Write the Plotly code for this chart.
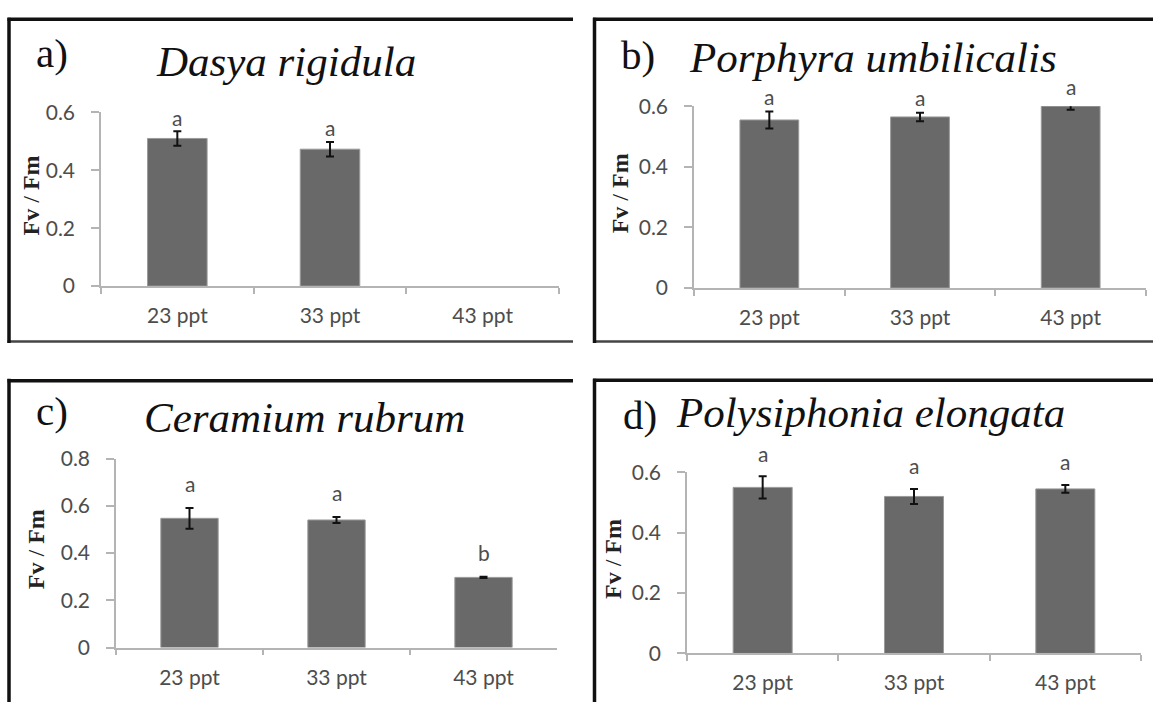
import plotly.graph_objects as go

W, H = 1153, 711

# ---------------- data ----------------
categories = ["23 ppt", "33 ppt", "43 ppt"]

dasya_mean = [0.510, 0.473, None]
dasya_err = [0.025, 0.025, None]
dasya_sig = ["a", "a", ""]

porphyra_mean = [0.555, 0.565, 0.602]
porphyra_err = [0.028, 0.014, 0.013]
porphyra_sig = ["a", "a", "a"]

ceramium_mean = [0.547, 0.540, 0.297]
ceramium_err = [0.044, 0.013, 0.003]
ceramium_sig = ["a", "a", "b"]

polysiphonia_mean = [0.550, 0.520, 0.545]
polysiphonia_err = [0.037, 0.025, 0.013]
polysiphonia_sig = ["a", "a", "a"]

panel_labels = ["a)", "b)", "c)", "d)"]
species = ["Dasya rigidula", "Porphyra umbilicalis", "Ceramium rubrum", "Polysiphonia elongata"]
y_maxima = [0.6, 0.6, 0.8, 0.6]
y_title = "<b>Fv</b> / <b>Fm</b>"

# ---------------- layout helpers ----------------
def px_x(x):
    return x / W

def px_y(y):
    return 1 - y / H

# plot-area boxes in pixels: (x0, x1, ytop, ybottom)
boxes = [
    (101, 559, 102, 282),
    (694, 1146, 95.7, 284),
    (116, 557, 460.7, 656.7),
    (687, 1141, 475, 662.7),
]
means = [dasya_mean, porphyra_mean, ceramium_mean, polysiphonia_mean]
errs = [dasya_err, porphyra_err, ceramium_err, polysiphonia_err]
sigs = [dasya_sig, porphyra_sig, ceramium_sig, polysiphonia_sig]
sig_shift = [14, 15, 24, 23]

# title positions (px): label left, label centre y, species left, species centre y
title_pos = [
    (34, 40, 154, 49),
    (619, 43, 687, 45),
    (34, 411, 142, 418),
    (621, 416, 674, 413),
]
ytitle_x = [31, 620, 36, 613]

BAR = "#696969"
AXIS = "#b4b4b4"
TICKFONT = dict(family="Lato, 'Open Sans', sans-serif", size=21, color="#4d4d4d")
SERIF = "'Liberation Serif', 'Times New Roman', serif"

fig = go.Figure()
annotations = []
shapes = []

for i in range(4):
    sfx = "" if i == 0 else str(i + 1)
    x0, x1, yt, yb = boxes[i]
    d0, d1 = px_y(yb), px_y(yt)
    fig.add_trace(go.Bar(
        x=categories, y=means[i],
        width=0.39,
        marker=dict(color=BAR, line=dict(color="#9a9a9a", width=1)),
        error_y=dict(type="data", array=errs[i], visible=True,
                     color="#111111", thickness=2, width=4),
        xaxis="x" + sfx, yaxis="y" + sfx, cliponaxis=False,
        showlegend=False, hoverinfo="skip",
    ))
    fig.update_layout(**{
        "xaxis" + sfx: dict(
            domain=[px_x(x0), px_x(x1)], anchor="y" + sfx,
            type="category", categoryorder="array", categoryarray=categories,
            range=[-0.5, 2.5],
            showline=True, linecolor=AXIS, linewidth=1.5,
            ticks="outside", ticklen=6, tickcolor=AXIS, tickwidth=1.5,
            tickson="boundaries", showgrid=False, zeroline=False,
            tickfont=TICKFONT, ticklabelstandoff=10,
        ),
        "yaxis" + sfx: dict(
            domain=[d0, d1], anchor="x" + sfx,
            range=[0, y_maxima[i]], dtick=0.2, tick0=0,
            showline=True, linecolor=AXIS, linewidth=1.5,
            ticks="outside", ticklen=8, tickcolor=AXIS, tickwidth=1.5,
            showgrid=False, zeroline=False,
            tickfont=TICKFONT, ticklabelstandoff=12,
        ),
    })
    # significance letters (y mapped through the axis scale to paper space)
    for c, m, e, s in zip(categories, means[i], errs[i], sigs[i]):
        if m is None or not s:
            continue
        annotations.append(dict(
            x=c, xref="x" + sfx,
            y=d0 + (m + e) / y_maxima[i] * (d1 - d0), yref="paper",
            text=s, showarrow=False, yanchor="middle", yshift=sig_shift[i],
            font=dict(family="Lato, 'Open Sans', sans-serif", size=21, color="#4d4d4d"),
        ))
    # titles
    lx, ly, sx, sy = title_pos[i]
    annotations.append(dict(
        x=px_x(lx), y=px_y(ly), xref="paper", yref="paper",
        xanchor="left", yanchor="middle", text=panel_labels[i], showarrow=False,
        font=dict(family=SERIF, size=41, color="#111111"),
    ))
    annotations.append(dict(
        x=px_x(sx), y=px_y(sy), xref="paper", yref="paper",
        xanchor="left", yanchor="middle", text="<i>" + species[i] + "</i>", showarrow=False,
        font=dict(family=SERIF, size=43, color="#111111"),
    ))
    # y-axis title
    annotations.append(dict(
        x=px_x(ytitle_x[i]), y=px_y((yt + yb) / 2 - 4), xref="paper", yref="paper",
        xanchor="center", yanchor="middle", text=y_title, textangle=-90, showarrow=False,
        font=dict(family=SERIF, size=24, color="#222222"),
    ))

# panel frames (lines)
def hline(xa, xb, y, w, col):
    shapes.append(dict(type="line", xref="paper", yref="paper",
                       x0=px_x(xa), x1=px_x(xb), y0=px_y(y), y1=px_y(y),
                       line=dict(color=col, width=w)))

def vline(x, ya, yb, w, col):
    shapes.append(dict(type="line", xref="paper", yref="paper",
                       x0=px_x(x), x1=px_x(x), y0=px_y(ya), y1=px_y(yb),
                       line=dict(color=col, width=w)))

DARK = "#111111"
hline(7.5, 573, 5.5, 3.5, DARK)
hline(7.5, 573, 339.5, 2.5, "#444444")
vline(9, 4, 341, 3.5, DARK)
hline(593, 1155, 5.5, 3.5, DARK)
hline(593, 1155, 339.5, 2.5, "#444444")
vline(594.5, 4, 341, 3.5, DARK)
hline(7.5, 573, 380, 3.5, DARK)
vline(9, 378, 713, 3.5, DARK)
hline(593, 1155, 379.5, 3.5, DARK)
vline(594.5, 378, 713, 3.5, DARK)

fig.update_layout(
    width=W, height=H,
    margin=dict(l=0, r=0, t=0, b=0),
    paper_bgcolor="white", plot_bgcolor="white",
    annotations=annotations, shapes=shapes,
)

fig.write_html(
    "out.html",
    config={"displayModeBar": False},
    post_script="document.body.style.margin='0px';document.body.style.overflow='hidden';",
)
